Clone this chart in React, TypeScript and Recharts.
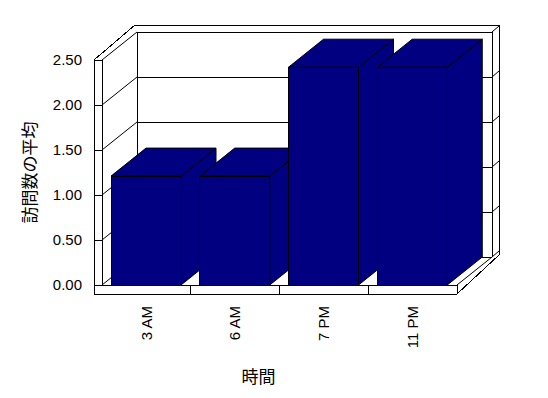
import { BarChart, Bar, XAxis, YAxis, CartesianGrid } from "recharts";

const HOURS = ["3 AM", "6 AM", "7 PM", "11 PM"];
const AVG_VISITS = [1.21, 1.21, 2.42, 2.42];
const Y_TICKS = [0, 0.5, 1, 1.5, 2, 2.5];

const data = HOURS.map((hour, i) => ({ hour, value: AVG_VISITS[i] }));

// layout of the fake 3D box
const W = 548;
const H = 398;
const PL = 102;
const PR = 457;
const PT = 60;
const PB = 285;
const DX = 35;
const DY = -28;
const WALL = 8;
const FLOOR = 9;
const BACK = 7;
const BAND = (PR - PL) / HOURS.length;
const NAVY = "#000080";
const FONT = "'Liberation Sans', Arial, sans-serif";
const JP_FONT = "'Noto Sans CJK JP', 'Noto Sans CJK SC', sans-serif";

function Walls() {
  const outer = [
    [PL - WALL, PB + FLOOR],
    [PL - WALL, PT],
    [PL - WALL + DX + 6, PT + DY - 7],
    [PR + DX + BACK, PT + DY - 7],
    [PR + DX + BACK, PB + DY - 2],
    [PR, PB + FLOOR],
  ]
    .map((p) => p.join(","))
    .join(" ");
  return (
    <svg width={W} height={H} style={{ position: "absolute", left: 0, top: 0 }}>
      <rect x={0} y={0} width={W} height={H} fill="#fff" />
      <g stroke="#000" strokeWidth={1} fill="none" shapeRendering="crispEdges">
        <polygon points={outer} />
        <line x1={PL} y1={PT} x2={PL} y2={PB} />
        <line x1={PL + DX} y1={PT + DY} x2={PL + DX} y2={PB + DY} />
        <line x1={PR + DX} y1={PT + DY} x2={PR + DX} y2={PB + DY} />
        <line x1={PL} y1={PB} x2={PR} y2={PB} />
        <line x1={PR} y1={PB} x2={PR} y2={PB + FLOOR} />
        <line x1={PR} y1={PB} x2={PR + DX} y2={PB + DY} shapeRendering="auto" />
      </g>
    </svg>
  );
}

function GridLine(props: any) {
  const { x1, x2, y1 } = props;
  return (
    <g key={`g-${y1}`} stroke="#000" strokeWidth={1} fill="none">
      <line x1={x1 - WALL} y1={y1} x2={x1} y2={y1} shapeRendering="crispEdges" />
      <line x1={x1} y1={y1} x2={x1 + DX} y2={y1 + DY} />
      <line x1={x1 + DX} y1={y1 + DY} x2={x2 + DX} y2={y1 + DY} shapeRendering="crispEdges" />
      <line x1={x2 + DX} y1={y1 + DY} x2={x2 + DX + BACK} y2={y1 + DY - 6} />
    </g>
  );
}

function Box3D(props: any) {
  const { x, y, width, height } = props;
  if (!height) return null;
  const top = [
    [x, y],
    [x + width, y],
    [x + width + DX, y + DY],
    [x + DX, y + DY],
  ];
  const side = [
    [x + width, y],
    [x + width + DX, y + DY],
    [x + width + DX, y + height + DY],
    [x + width, y + height],
  ];
  const pts = (a: number[][]) => a.map((p) => p.join(",")).join(" ");
  return (
    <g stroke="#000" strokeWidth={1} fill={NAVY}>
      <polygon points={pts(side)} />
      <polygon points={pts(top)} />
      <rect x={x} y={y} width={width} height={height} shapeRendering="crispEdges" />
    </g>
  );
}

function HourTick(props: any) {
  const { x, y, payload, index } = props;
  const ty = y + 21;
  return (
    <g>
      {index < HOURS.length - 1 && (
        <line
          x1={x + BAND / 2}
          y1={y}
          x2={x + BAND / 2}
          y2={y + FLOOR}
          stroke="#000"
          shapeRendering="crispEdges"
        />
      )}
      <text
        x={x}
        y={ty}
        dy="0.35em"
        transform={`rotate(-90, ${x}, ${ty})`}
        textAnchor="end"
        fontSize={15}
        fontFamily={FONT}
        fill="#000"
      >
        {payload.value}
      </text>
    </g>
  );
}

function YTitle(props: any) {
  const vb = props.viewBox || { x: 0, y: PT, width: PL, height: PB - PT };
  const cy = vb.y + vb.height / 2;
  const cx = 30;
  return (
    <text
      x={cx}
      y={cy}
      dy="0.35em"
      transform={`rotate(-90, ${cx}, ${cy})`}
      textAnchor="middle"
      fontSize={17}
      fontFamily={JP_FONT}
      fill="#000"
    >
      訪問数の平均
    </text>
  );
}

function XTitle(props: any) {
  const vb = props.viewBox || { x: PL, y: PB, width: PR - PL, height: H - PB };
  return (
    <text
      x={vb.x + vb.width / 2 - 21}
      y={H - 21}
      dy="0.35em"
      textAnchor="middle"
      fontSize={17}
      fontFamily={JP_FONT}
      fill="#000"
    >
      時間
    </text>
  );
}

export default function App() {
  return (
    <div style={{ position: "absolute", left: 0, top: 0, width: W, height: H, background: "#fff" }}>
      <Walls />
      <BarChart
        width={W}
        height={H}
        data={data}
        margin={{ top: PT, right: W - PR, bottom: 0, left: 0 }}
        barSize={70}
      >
        <CartesianGrid vertical={false} horizontal={(p: any) => <GridLine {...p} />} />
        <XAxis
          dataKey="hour"
          height={H - PB}
          axisLine={false}
          tickLine={false}
          tickSize={0}
          tickMargin={0}
          interval={0}
          tick={<HourTick />}
          label={<XTitle />}
        />
        <YAxis
          width={PL}
          domain={[0, 2.5]}
          ticks={Y_TICKS}
          interval={0}
          axisLine={false}
          tickLine={false}
          tickSize={0}
          tickMargin={20}
          tickFormatter={(v: number) => v.toFixed(2)}
          tick={{ fill: "#000", fontSize: 15, fontFamily: FONT }}
          label={<YTitle />}
        />
        <Bar dataKey="value" shape={<Box3D />} isAnimationActive={false} />
      </BarChart>
    </div>
  );
}
